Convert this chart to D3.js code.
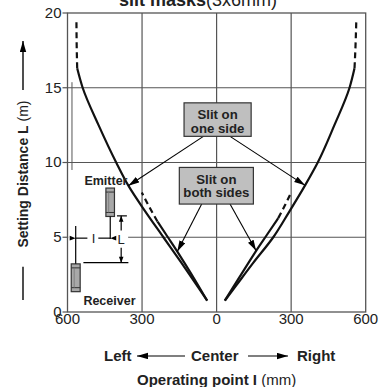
<!DOCTYPE html>
<html><head><meta charset="utf-8">
<script src="https://cdn.jsdelivr.net/npm/d3@7/dist/d3.min.js"></script>
<style>
html,body{margin:0;padding:0;background:#fff;}
svg{display:block;font-family:"Liberation Sans",Arial,sans-serif;}
</style></head>
<body>
<svg id="c" width="389" height="387"></svg>
<script>
// ---------- data ----------
const xTickValues = [-600, -300, 0, 300, 600];
const xTickLabels = ["600", "300", "0", "300", "600"];
const yTickValues = [0, 5, 10, 15, 20];
const yTickLabels = ["0", "5", "10", "15", "20"];
const xGrid = [-300, 0, 300];
const yGrid = [5, 10, 15];

// Slit on one side (outer curves): [operating point mm, distance m]
const oneSideLeftSolid  = [[-38,0.76],[-80,1.8],[-142,3.3],[-214,5],[-290,6.8],[-355,8.45],[-404,10],[-475,12.5],[-539,15],[-561,16.3]];
const oneSideLeftDash   = [[-561,16.3],[-563,17.8],[-564,19.4]];
const oneSideRightSolid = [[33,0.76],[80,1.8],[148,3.3],[228,5],[292,6.7],[356,8.47],[407,10],[474,12.5],[535,15],[555,16.3]];
const oneSideRightDash  = [[555,16.3],[559,17.8],[562,19.4]];
// Slit on both sides (inner curves)
const bothLeftSolid  = [[-38,0.76],[-75,1.8],[-130,3.3],[-158,4.04],[-196,5],[-238,6.05]];
const bothLeftDash   = [[-238,6.05],[-270,7.0],[-301,8.0]];
const bothRightSolid = [[33,0.76],[70,1.75],[125,3.2],[159,4.09],[200,5.1],[248,6.28]];
const bothRightDash  = [[248,6.28],[274,7.1],[300,8.0]];

const titleBold = "slit masks", titleRest = "(3x6mm)";
const xLabelBold = "Operating point I", xLabelRest = " (mm)";
const yLabelBold = "Setting Distance L", yLabelRest = " (m)";

// ---------- layout ----------
const svg = d3.select("#c");
const x = d3.scaleLinear().domain([-600, 600]).range([67.5, 365.7]);
const y = d3.scaleLinear().domain([0, 20]).range([312, 13]);
const gridColor = "#555";

// defs
const defs = svg.append("defs");
defs.append("marker").attr("id","ah").attr("markerUnits","userSpaceOnUse")
  .attr("markerWidth",12).attr("markerHeight",7).attr("refX",11).attr("refY",3.2)
  .attr("orient","auto").append("path").attr("d","M0,0 L11,3.2 L0,6.4 Z").attr("fill","#000");

// grid
svg.append("g").selectAll("line").data(xGrid).join("line")
  .attr("x1", d => x(d)).attr("x2", d => x(d)).attr("y1", y(0)).attr("y2", y(20))
  .attr("stroke", gridColor).attr("stroke-width", 1.2);
svg.append("g").selectAll("line").data(yGrid).join("line")
  .attr("x1", x(-600)).attr("x2", x(600)).attr("y1", d => y(d)).attr("y2", d => y(d))
  .attr("stroke", gridColor).attr("stroke-width", 1.2);

// stray vertical line near left axis
svg.append("line").attr("x1", x(-582)).attr("x2", x(-582)).attr("y1", y(15.37)).attr("y2", y(9.12))
  .attr("stroke", gridColor).attr("stroke-width", 1);

// white backdrop for schematic
svg.append("rect").attr("x", x(-597)).attr("y", y(9.5)).attr("width", x(-356)-x(-597)).attr("height", y(0.05)-y(9.5))
  .attr("fill", "#fff");

// plot border
svg.append("rect").attr("x", x(-600)).attr("y", y(20)).attr("width", x(600)-x(-600)).attr("height", y(0)-y(20))
  .attr("fill","none").attr("stroke", gridColor).attr("stroke-width", 1.3);

// y ticks
svg.append("g").selectAll("line").data(yTickValues).join("line")
  .attr("x1", x(-600)-5).attr("x2", x(-600)).attr("y1", d => y(d)).attr("y2", d => y(d))
  .attr("stroke", gridColor).attr("stroke-width", 1.2);
svg.append("g").selectAll("text").data(yTickValues).join("text")
  .attr("x", x(-600)-6).attr("y", d => y(d)+4.8).attr("text-anchor","end")
  .attr("font-size", 15).attr("fill","#222").text((d,i) => yTickLabels[i]);
// x tick labels
svg.append("g").selectAll("text").data(xTickValues).join("text")
  .attr("x", d => x(d)).attr("y", y(0)+11.8).attr("text-anchor","middle")
  .attr("font-size", 15).attr("fill","#222").text((d,i) => xTickLabels[i]);

// curves
const line = d3.line().x(d => x(d[0])).y(d => y(d[1])).curve(d3.curveMonotoneY);
const solid = [oneSideLeftSolid, oneSideRightSolid, bothLeftSolid, bothRightSolid];
const dashed = [oneSideLeftDash, oneSideRightDash, bothLeftDash, bothRightDash];
svg.append("g").selectAll("path").data(solid).join("path")
  .attr("d", line).attr("fill","none").attr("stroke","#111").attr("stroke-width",2.2);
svg.append("g").selectAll("path").data(dashed).join("path")
  .attr("d", line).attr("fill","none").attr("stroke","#111").attr("stroke-width",2.2)
  .attr("stroke-dasharray","6,4");

// annotation boxes
const boxes = [
  {x0:-131, x1:139, y0:13.99, y1:11.75, lines:["Slit on","one side"]},
  {x0:-150, x1:148, y0:9.67, y1:7.22, lines:["Slit on","both sides"]}
];
const arrows = [
  [[-53,11.75],[-355,8.45]], [[54,11.75],[356,8.47]],
  [[-60,7.22],[-158,4.04]], [[54,7.22],[159,4.09]]
];
svg.append("g").selectAll("line").data(arrows).join("line")
  .attr("x1", d => x(d[0][0])).attr("y1", d => y(d[0][1]))
  .attr("x2", d => x(d[1][0])).attr("y2", d => y(d[1][1]))
  .attr("stroke","#000").attr("stroke-width",1.1).attr("marker-end","url(#ah)");
const bg = svg.append("g").selectAll("g").data(boxes).join("g");
bg.append("rect").attr("x", d => x(d.x0)).attr("y", d => y(d.y0))
  .attr("width", d => x(d.x1)-x(d.x0)).attr("height", d => y(d.y1)-y(d.y0))
  .attr("fill","#bfbfbf").attr("stroke","#333").attr("stroke-width",1.2);
bg.each(function(d){
  const g = d3.select(this), cx = (x(d.x0)+x(d.x1))/2, top = y(d.y0);
  g.append("text").attr("x", cx).attr("y", top+16.5).attr("text-anchor","middle")
    .attr("font-weight","bold").attr("font-size",13.2).attr("fill","#222").text(d.lines[0]);
  g.append("text").attr("x", cx).attr("y", top+30).attr("text-anchor","middle")
    .attr("font-weight","bold").attr("font-size",13.2).attr("fill","#222").text(d.lines[1]);
});

// schematic (emitter / receiver)
const sch = svg.append("g");
const dev = (x0,x1,y0,y1) => {
  const g = sch.append("g");
  const X0 = x(x0), X1 = x(x1), Y0 = y(y0), Y1 = y(y1);
  g.append("rect").attr("x",X0).attr("y",Y0).attr("width",X1-X0).attr("height",Y1-Y0)
    .attr("fill","#a8a8a8").attr("stroke","#333").attr("stroke-width",1.2);
  g.append("line").attr("x1",X0).attr("x2",X1).attr("y1",Y0+4).attr("y2",Y0+4).attr("stroke","#333").attr("stroke-width",1);
  g.append("line").attr("x1",X0).attr("x2",X1).attr("y1",Y1-4).attr("y2",Y1-4).attr("stroke","#333").attr("stroke-width",1);
  g.append("line").attr("x1",(X0+X1)/2-1.5).attr("x2",(X0+X1)/2-1.5).attr("y1",Y0+4).attr("y2",Y1-4).attr("stroke","#777").attr("stroke-width",0.8);
};
dev(-445.5,-411,8.29,6.39);
dev(-585,-549,3.22,1.36);
const seg = (a,b,c,d) => {
  sch.append("line").attr("x1",x(a)).attr("y1",y(b)).attr("x2",x(c)).attr("y2",y(d))
    .attr("stroke","#000").attr("stroke-width",1.2);
};
seg(-567,3.22,-567,5.76);
seg(-428,6.39,-428,4.89);
seg(-567,4.94,-520,4.94);
seg(-476,4.94,-428,4.94);
seg(-401,6.43,-361,6.43);
seg(-536,3.30,-355,3.30);
seg(-384,6.43,-384,5.45);
seg(-384,4.3,-384,3.30);
// arrowheads for dims
const ahs = [[-567,4.94,0],[-428,4.94,180],[-384,6.43,-90],[-384,3.30,90]];
sch.selectAll("path.dh").data(ahs).join("path")
  .attr("transform", d => `translate(${x(d[0])},${y(d[1])}) rotate(${d[2]+180})`)
  .attr("d","M0,0 L6,-2.3 L6,2.3 Z").attr("fill","#000");
sch.append("text").attr("x", x(-495)).attr("y", y(4.94)+4.5).attr("text-anchor","middle")
  .attr("font-size",13).attr("fill","#222").text("I");
sch.append("text").attr("x", x(-384)).attr("y", y(4.87)+5).attr("text-anchor","middle")
  .attr("font-size",13).attr("fill","#222").text("L");
sch.append("text").attr("x", x(-532)).attr("y", y(8.51)).attr("font-weight","bold")
  .attr("font-size",12.5).attr("fill","#222").text("Emitter");
sch.append("text").attr("x", x(-536)).attr("y", y(0.47)).attr("font-weight","bold")
  .attr("font-size",12.5).attr("fill","#222").text("Receiver");

// title
const t = svg.append("text").attr("x", 119).attr("y", 6).attr("font-size", 18).attr("fill","#222");
t.append("tspan").attr("font-weight","bold").text(titleBold);
t.append("tspan").text(titleRest);

// Left / Center / Right
const lcr = svg.append("g").attr("font-weight","bold").attr("font-size",15).attr("fill","#222");
lcr.append("text").attr("x",104).attr("y",361).text("Left");
lcr.append("text").attr("x",191).attr("y",361).text("Center");
lcr.append("text").attr("x",297).attr("y",361).text("Right");
svg.append("line").attr("x1",185).attr("x2",137).attr("y1",356).attr("y2",356)
  .attr("stroke","#000").attr("stroke-width",1.2).attr("marker-end","url(#ah)");
svg.append("line").attr("x1",248).attr("x2",288).attr("y1",356).attr("y2",356)
  .attr("stroke","#000").attr("stroke-width",1.2).attr("marker-end","url(#ah)");

// x axis title
const xt = svg.append("text").attr("x",137).attr("y",384.5).attr("font-size",15).attr("fill","#222");
xt.append("tspan").attr("font-weight","bold").text(xLabelBold);
xt.append("tspan").text(xLabelRest);

// y axis title
const yt = svg.append("text").attr("transform","translate(28,174) rotate(-90)")
  .attr("text-anchor","middle").attr("font-size",14).attr("fill","#222");
yt.append("tspan").attr("font-weight","bold").text(yLabelBold);
yt.append("tspan").text(yLabelRest);
svg.append("line").attr("x1",23).attr("x2",23).attr("y1",300).attr("y2",266.7)
  .attr("stroke","#222").attr("stroke-width",1.6);
svg.append("line").attr("x1",23).attr("x2",23).attr("y1",90).attr("y2",41)
  .attr("stroke","#222").attr("stroke-width",1.6).attr("marker-end","url(#ah)");
</script>
</body></html>
